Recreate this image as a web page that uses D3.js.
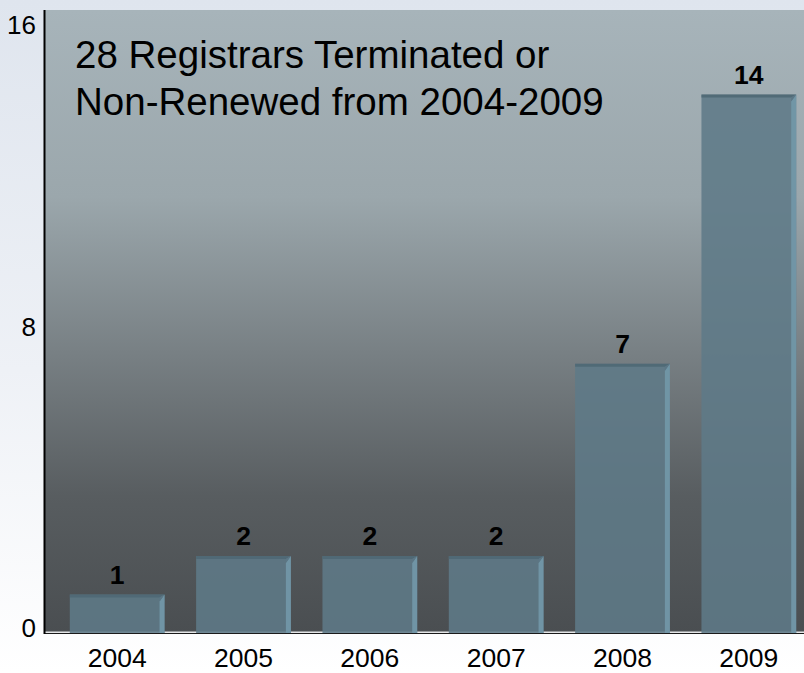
<!DOCTYPE html>
<html>
<head>
<meta charset="utf-8">
<script src="https://cdn.jsdelivr.net/npm/d3@7"></script>
<style>
  html, body { margin: 0; padding: 0; background: #fff; }
  svg { display: block; }
  text { font-family: "Liberation Sans", Arial, sans-serif; }
</style>
</head>
<body>
<script>
const categories = ["2004", "2005", "2006", "2007", "2008", "2009"];
const values = [1, 2, 2, 2, 7, 14];
const yTicks = [0, 8, 16];
const titleLines = ["28 Registrars Terminated or", "Non-Renewed from 2004-2009"];

const W = 804, H = 673;
const plot = { left: 45, top: 10, right: 812, bottom: 633 };

const svg = d3.select("body").append("svg").attr("width", W).attr("height", H);
const defs = svg.append("defs");

const pageGrad = defs.append("linearGradient").attr("id", "pageGrad")
  .attr("x1", 0).attr("y1", 0).attr("x2", 0).attr("y2", 1);
pageGrad.append("stop").attr("offset", "0%").attr("stop-color", "#dfe5ee");
pageGrad.append("stop").attr("offset", "55%").attr("stop-color", "#eef1f6");
pageGrad.append("stop").attr("offset", "100%").attr("stop-color", "#ffffff");

const plotGrad = defs.append("linearGradient").attr("id", "plotGrad")
  .attr("x1", 0).attr("y1", 0).attr("x2", 0).attr("y2", 1);
[["0%", "#a7b4ba"], ["30%", "#9ba7ac"], ["55%", "#788084"], ["78%", "#585d60"], ["100%", "#4a4e51"]]
  .forEach(([o, c]) => plotGrad.append("stop").attr("offset", o).attr("stop-color", c));

svg.append("rect").attr("width", W).attr("height", H).attr("fill", "url(#pageGrad)");
svg.append("rect")
  .attr("x", plot.left).attr("y", plot.top)
  .attr("width", plot.right - plot.left).attr("height", plot.bottom - plot.top)
  .attr("fill", "url(#plotGrad)");

const x = d3.scaleBand().domain(categories).range([54, 812]).paddingInner(0.25).paddingOuter(0.125);
const y = d3.scaleLinear().domain([0, 16.2]).range([plot.bottom, plot.top]);
const yLabel = d3.scaleLinear().domain([0, 16]).range([628, 25]);

// baseline light line
svg.append("line")
  .attr("x1", plot.left).attr("x2", W).attr("y1", plot.bottom - 0.5).attr("y2", plot.bottom - 0.5)
  .attr("stroke", "#e4e6e8").attr("stroke-width", 2);

const data = categories.map((c, i) => ({ c, v: values[i] }));
const bw = x.bandwidth();
const bevel = 5;

const g = svg.append("g").selectAll("g").data(data).join("g");
g.append("rect")
  .attr("x", d => x(d.c)).attr("y", d => y(d.v))
  .attr("width", bw).attr("height", d => y(0) - y(d.v))
  .attr("fill", "rgb(95,122,136)").attr("fill-opacity", 0.88);
g.append("path")
  .attr("d", d => {
    const x0 = x(d.c), x1 = x0 + bw, t = y(d.v);
    return `M${x0},${t}L${x1},${t}L${x1 - bevel},${t + 3}L${x0},${t + 3}Z`;
  })
  .attr("fill", "#4f6874").attr("fill-opacity", 0.9);
g.append("path")
  .attr("d", d => {
    const x0 = x(d.c), x1 = x0 + bw, t = y(d.v), b = y(0);
    return `M${x1},${t}L${x1},${b}L${x1 - bevel},${b}L${x1 - bevel},${t + bevel + 2}Z`;
  })
  .attr("fill", "#7298a8").attr("fill-opacity", 0.9);
g.append("path")
  .attr("d", d => {
    const x1 = x(d.c) + bw, t = y(d.v);
    return `M${x1},${t}L${x1 - bevel},${t + 3}L${x1 - bevel},${t + bevel + 2}Z`;
  })
  .attr("fill", "#5c7786");

svg.append("line")
  .attr("x1", plot.left).attr("x2", W).attr("y1", plot.bottom + 0.5).attr("y2", plot.bottom + 0.5)
  .attr("stroke", "#1a1a1a").attr("stroke-width", 1);

svg.append("line")
  .attr("x1", plot.left - 0.5).attr("x2", plot.left - 0.5)
  .attr("y1", plot.top).attr("y2", plot.bottom + 1)
  .attr("stroke", "#000").attr("stroke-width", 2);

svg.append("g").selectAll("text").data(data).join("text")
  .attr("x", d => x(d.c) + bw / 2)
  .attr("y", d => y(d.v) - 11)
  .attr("text-anchor", "middle")
  .attr("font-size", 26.5).attr("font-weight", "bold").attr("fill", "#000")
  .text(d => d.v);

svg.append("g").selectAll("text").data(yTicks).join("text")
  .attr("x", 36).attr("y", d => yLabel(d))
  .attr("dy", "0.35em")
  .attr("text-anchor", "end")
  .attr("font-size", 26).attr("fill", "#000")
  .text(d => d);

const xAxis = d3.axisBottom(x).tickSize(0).tickPadding(0);
const xa = svg.append("g").attr("transform", `translate(0,${plot.bottom})`).call(xAxis);
xa.select(".domain").remove();
xa.selectAll("text")
  .attr("y", 34).attr("dy", 0)
  .attr("font-size", 26.5).attr("fill", "#000")
  .attr("font-family", "'Liberation Sans', Arial, sans-serif");

svg.append("text")
  .attr("x", 75).attr("y", 68)
  .attr("font-size", 38.5).attr("fill", "#000")
  .selectAll("tspan").data(titleLines).join("tspan")
  .attr("x", 75).attr("dy", (d, i) => i === 0 ? 0 : 47)
  .text(d => d);
</script>
</body>
</html>
